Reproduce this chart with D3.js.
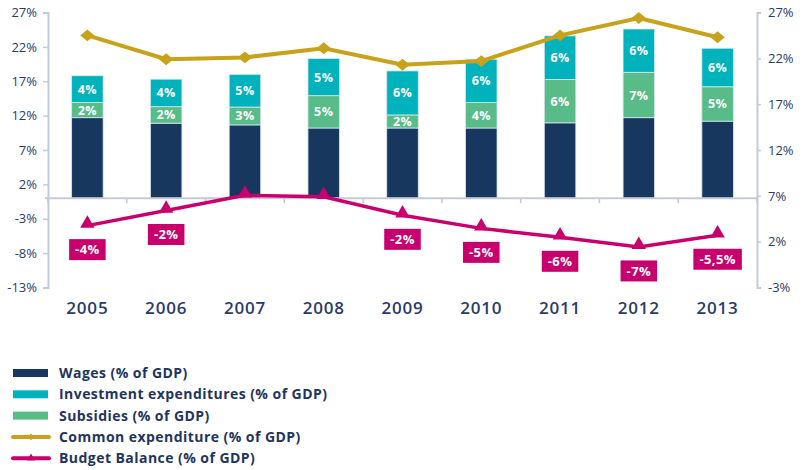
<!DOCTYPE html>
<html>
<head>
<meta charset="utf-8">
<script src="https://cdn.jsdelivr.net/npm/d3@7"></script>
<style>
  body { margin: 0; background: #fff; }
  svg { display: block; font-family: "Open Sans", sans-serif; }
</style>
</head>
<body>
<div id="chart"></div>
<script>
const years = ["2005", "2006", "2007", "2008", "2009", "2010", "2011", "2012", "2013"];
const wages = [11.7, 10.9, 10.65, 10.2, 10.2, 10.2, 10.95, 11.7, 11.2];
const subsidies = [2.2, 2.4, 2.6, 4.7, 1.9, 3.7, 6.3, 6.6, 5.0];
const investment = [3.9, 4.0, 4.75, 5.4, 6.4, 6.3, 6.35, 6.3, 5.6];
const commonExp = [24.5, 21.9, 22.1, 23.1, 21.3, 21.7, 24.5, 26.4, 24.3];
const balance = [-4.0, -1.8, 0.4, 0.2, -2.5, -4.4, -5.7, -7.1, -5.4];
const balanceLabels = ["-4%", "-2%", "", "", "-2%", "-5%", "-6%", "-7%", "-5,5%"];
const leftTicks = [-13, -8, -3, 2, 7, 12, 17, 22, 27];
const rightTicks = [-3, 2, 7, 12, 17, 22, 27];

const width = 806;
const height = 470;
const navy = "#2b3b68";
const axisColor = "#c3cad8";
const colors = {
  wages: "#17375f",
  investment: "#00b2bc",
  subsidies: "#57bc88",
  common: "#c9a21b",
  balance: "#c8006e",
};

const plotLeft = 48, plotRight = 757, plotTop = 12.5, plotBottom = 287.5;

const x = d3.scaleBand().domain(years).range([plotLeft, plotRight])
  .paddingInner(0.6).paddingOuter(0.3);
const yL = d3.scaleLinear().domain([-13, 27]).range([plotBottom, plotTop]);
const yR = d3.scaleLinear().domain([-3, 27]).range([plotBottom, plotTop]);

const svg = d3.select("#chart").append("svg")
  .attr("width", width).attr("height", height);

// axes
const gL = svg.append("g").attr("transform", `translate(${plotLeft},0)`)
  .call(d3.axisLeft(yL).tickValues(leftTicks).tickSize(5).tickPadding(6).tickFormat((d) => d + "%"));
const gR = svg.append("g").attr("transform", `translate(${plotRight},0)`)
  .call(d3.axisRight(yR).tickValues(rightTicks).tickSize(4).tickPadding(7).tickFormat((d) => d + "%"));
[gL, gR].forEach((g) => {
  g.select(".domain").attr("stroke", axisColor).attr("stroke-width", 2);
  g.selectAll(".tick line").attr("stroke", axisColor).attr("stroke-width", 1.5);
  g.selectAll(".tick text").attr("fill", navy).attr("font-size", 13)
    .attr("font-family", "Open Sans, sans-serif");
});

// stacked bars
const rows = years.map((y, i) => ({
  year: y, wages: wages[i], subsidies: subsidies[i], investment: investment[i],
}));
const series = d3.stack().keys(["wages", "subsidies", "investment"])(rows);

const bars = svg.append("g");
series.forEach((s) => {
  const g = bars.append("g");
  g.selectAll("rect").data(s).join("rect")
    .attr("x", (d) => x(d.data.year))
    .attr("width", x.bandwidth())
    .attr("y", (d) => yL(d[1]))
    .attr("height", (d) => yL(d[0]) - yL(d[1]))
    .attr("fill", colors[s.key])
    .attr("stroke", "#d9e6ee")
    .attr("stroke-width", 0.8);
  if (s.key !== "wages") {
    g.selectAll("text").data(s).join("text")
      .attr("x", (d) => x(d.data.year) + x.bandwidth() / 2)
      .attr("y", (d) => (yL(d[0]) + yL(d[1])) / 2)
      .attr("dy", "0.36em")
      .attr("text-anchor", "middle")
      .attr("fill", "#fff")
      .attr("font-size", 12.5)
      .attr("font-weight", 700)
      .attr("letter-spacing", 0.4)
      .text((d) => d3.format(".0f")(d.data[s.key]) + "%");
  }
});

// x axis (zero line) with boundary ticks
const step = x.step();
const gX = svg.append("g");
gX.append("line")
  .attr("x1", plotLeft - 3).attr("x2", plotRight)
  .attr("y1", yL(0)).attr("y2", yL(0))
  .attr("stroke", axisColor).attr("stroke-width", 2);
gX.selectAll("line.tick").data(d3.range(years.length + 1)).join("line")
  .attr("class", "tick")
  .attr("x1", (i) => plotLeft + i * step).attr("x2", (i) => plotLeft + i * step)
  .attr("y1", yL(0)).attr("y2", yL(0) + 5)
  .attr("stroke", axisColor).attr("stroke-width", 1.5);
svg.append("g").selectAll("text").data(years).join("text")
  .attr("x", (d) => x(d) + x.bandwidth() / 2)
  .attr("y", 308)
  .attr("dy", "0.35em")
  .attr("text-anchor", "middle")
  .attr("fill", navy)
  .attr("font-size", 17)
  .attr("font-weight", 600)
  .attr("letter-spacing", 0.8)
  .text((d) => d);

const cx = (i) => x(years[i]) + x.bandwidth() / 2;

// common expenditure line (right axis)
const lineC = d3.line().x((d, i) => cx(i)).y((d) => yR(d));
svg.append("path").datum(commonExp)
  .attr("d", lineC).attr("fill", "none")
  .attr("stroke", colors.common).attr("stroke-width", 4);
svg.append("g").selectAll("path").data(commonExp).join("path")
  .attr("transform", (d, i) => `translate(${cx(i)},${yR(d)}) scale(1.2,1)`)
  .attr("d", d3.symbol(d3.symbolDiamond2, 90))
  .attr("fill", colors.common);

// budget balance line (left axis)
const lineB = d3.line().x((d, i) => cx(i)).y((d) => yL(d));
svg.append("path").datum(balance)
  .attr("d", lineB).attr("fill", "none")
  .attr("stroke", colors.balance).attr("stroke-width", 3.5);
svg.append("g").selectAll("path").data(balance).join("path")
  .attr("transform", (d, i) => `translate(${cx(i)},${yL(d) - 2})`)
  .attr("d", d3.symbol(d3.symbolTriangle, 90))
  .attr("fill", colors.balance);

const lab = svg.append("g").selectAll("g")
  .data(balance.map((v, i) => ({ v, i, t: balanceLabels[i] })).filter((d) => d.t))
  .join("g")
  .attr("transform", (d) => `translate(${cx(d.i)},${yL(d.v) + 24})`);
lab.append("text")
  .attr("text-anchor", "middle")
  .attr("dy", "0.36em")
  .attr("fill", "#fff")
  .attr("font-size", 13)
  .attr("font-weight", 700)
  .attr("letter-spacing", 0.4)
  .text((d) => d.t);
lab.each(function () {
  const g = d3.select(this);
  const w = g.select("text").node().getComputedTextLength();
  g.insert("rect", "text")
    .attr("x", -w / 2 - 6).attr("width", w + 12)
    .attr("y", -10.5).attr("height", 21)
    .attr("fill", colors.balance);
});

// legend
const legendItems = [
  { name: "Wages (% of GDP)", color: colors.wages, type: "bar" },
  { name: "Investment expenditures (% of GDP)", color: colors.investment, type: "bar" },
  { name: "Subsidies (% of GDP)", color: colors.subsidies, type: "bar" },
  { name: "Common expenditure (% of GDP)", color: colors.common, type: "diamond" },
  { name: "Budget Balance (% of GDP)", color: colors.balance, type: "triangle" },
];
const leg = svg.append("g").selectAll("g").data(legendItems).join("g")
  .attr("transform", (d, i) => `translate(13,${373 + i * 21.3})`);
leg.filter((d) => d.type === "bar").append("rect")
  .attr("x", 0).attr("y", -4).attr("width", 35).attr("height", 8)
  .attr("fill", (d) => d.color);
leg.filter((d) => d.type !== "bar").append("line")
  .attr("x1", 0).attr("x2", 36).attr("y1", 0).attr("y2", 0)
  .attr("stroke", (d) => d.color).attr("stroke-width", 4).attr("stroke-linecap", "round");
leg.filter((d) => d.type !== "bar").append("path")
  .attr("transform", "translate(18,0)")
  .attr("d", (d) => d3.symbol(d.type === "diamond" ? d3.symbolDiamond2 : d3.symbolTriangle, 30)())
  .attr("fill", (d) => d.color);
leg.append("text")
  .attr("x", 46).attr("dy", "0.35em")
  .attr("fill", "#1f3560")
  .attr("font-size", 14)
  .attr("font-weight", 700)
  .attr("letter-spacing", 0.45)
  .text((d) => d.name);
</script>
</body>
</html>
